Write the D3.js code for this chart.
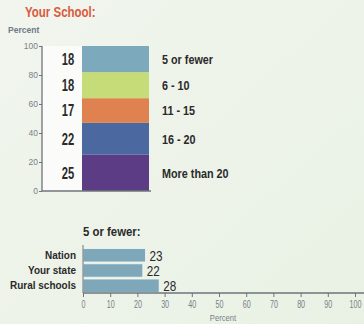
<!DOCTYPE html>
<html>
<head>
<meta charset="utf-8">
<script src="https://cdn.jsdelivr.net/npm/d3@7"></script>
<style>
  html, body { margin: 0; padding: 0; background: #eef3ea; }
  svg { display: block; font-family: "Liberation Sans", Arial, sans-serif; }
</style>
</head>
<body>
<div id="chart"></div>
<script>
// Class-size distribution at your school (stacked, bottom to top)
const sizeCategories = ["More than 20", "16 - 20", "11 - 15", "6 - 10", "5 or fewer"];
const sizePercents   = [25, 22, 17, 18, 18];
const sizeColors     = ["#5b3c85", "#4b69a0", "#e08150", "#c6dc78", "#7ca9bb"];
const percentTicks   = [0, 20, 40, 60, 80, 100];

// Share of classes with 5 or fewer students, by comparison group
const groupNames    = ["Nation", "Your state", "Rural schools"];
const groupPercents = [23, 22, 28];
const groupTicks    = [0, 10, 20, 30, 40, 50, 60, 70, 80, 90, 100];

const W = 364, H = 324;
const ink = "#2a2a2a", grey = "#7a8088", axisGrey = "#6f747a";
const svg = d3.select("#chart").append("svg").attr("width", W).attr("height", H);

// horizontally condensed text placed at (x, y)
const squeeze = (x, y, sx) => `translate(${x},${y}) scale(${sx},1)`;

// soft background wash
const defs = svg.append("defs");
const grad = defs.append("linearGradient").attr("id", "bg").attr("x1", 0).attr("y1", 0).attr("x2", 1).attr("y2", 1);
grad.append("stop").attr("offset", "0%").attr("stop-color", "#f1f5ee");
grad.append("stop").attr("offset", "100%").attr("stop-color", "#e9f1e4");
svg.append("rect").attr("width", W).attr("height", H).attr("fill", "url(#bg)");

// ---------- Top: stacked column ----------
svg.append("text")
  .attr("transform", squeeze(25, 17, 0.82))
  .attr("fill", "#d95a3c").attr("font-size", 14).attr("font-weight", "bold")
  .text("Your School:");

svg.append("text")
  .attr("transform", squeeze(8, 33, 0.95))
  .attr("fill", "#6f7a88").attr("font-size", 9).attr("font-weight", "bold")
  .text("Percent");

const y = d3.scaleLinear().domain([0, 100]).range([191, 46]);
const axisX = 42, barX0 = 82, barX1 = 149;

// white panel between axis and column
svg.append("rect").attr("x", axisX).attr("y", y(100)).attr("width", barX0 - axisX)
  .attr("height", y(0) - y(100)).attr("fill", "#fbfcfa");

const stacked = [];
let acc = 0;
sizePercents.forEach((v, i) => {
  stacked.push({ cat: sizeCategories[i], v, y0: acc, y1: acc + v, color: sizeColors[i] });
  acc += v;
});

svg.append("g").selectAll("rect").data(stacked).join("rect")
  .attr("x", barX0).attr("width", barX1 - barX0)
  .attr("y", d => y(d.y1)).attr("height", d => y(d.y0) - y(d.y1))
  .attr("fill", d => d.color);

// value labels to the left of the column
svg.append("g").selectAll("text").data(stacked).join("text")
  .attr("transform", d => squeeze(68, y((d.y0 + d.y1) / 2), 0.7))
  .attr("dy", "0.36em")
  .attr("text-anchor", "middle").attr("font-size", 16).attr("font-weight", "bold")
  .attr("fill", ink)
  .text(d => d.v);

// category labels to the right
svg.append("g").selectAll("text").data(stacked).join("text")
  .attr("transform", d => squeeze(162, y((d.y0 + d.y1) / 2), 0.8))
  .attr("dy", "0.36em")
  .attr("font-size", 13.5).attr("font-weight", "bold")
  .attr("fill", ink)
  .text(d => d.cat);

// left axis
const yAxis = svg.append("g").attr("transform", `translate(${axisX},0)`)
  .call(d3.axisLeft(y).tickValues(percentTicks).tickSize(3).tickPadding(1));
yAxis.select(".domain").attr("stroke", axisGrey).attr("stroke-width", 1.3)
  .attr("d", `M0,${y(100)}V${y(0)}`);
yAxis.selectAll(".tick line").attr("stroke", axisGrey);
yAxis.selectAll(".tick text").attr("font-family", null).attr("font-size", 8.5).attr("fill", grey);

// baseline under the column
svg.append("line").attr("x1", axisX).attr("x2", barX1 + 2)
  .attr("y1", y(0)).attr("y2", y(0)).attr("stroke", axisGrey).attr("stroke-width", 1.3);

// ---------- Bottom: horizontal bars ----------
svg.append("text")
  .attr("transform", squeeze(83, 236, 0.95))
  .attr("fill", ink).attr("font-size", 12).attr("font-weight", "bold")
  .text("5 or fewer:");

const x = d3.scaleLinear().domain([0, 100]).range([83, 355]);
const yb = d3.scaleBand().domain(groupNames).range([248, 293]).paddingInner(0.12).paddingOuter(0.04);

svg.append("g").selectAll("rect").data(groupNames).join("rect")
  .attr("x", x(0)).attr("y", d => yb(d))
  .attr("width", (d, i) => x(groupPercents[i]) - x(0)).attr("height", yb.bandwidth())
  .attr("fill", "#7ea8b9").attr("stroke", "#f4f8f2").attr("stroke-width", 0.8);

svg.append("g").selectAll("text").data(groupNames).join("text")
  .attr("transform", d => squeeze(76, yb(d) + yb.bandwidth() / 2, 0.95))
  .attr("dy", "0.36em")
  .attr("text-anchor", "end").attr("font-size", 10.5).attr("font-weight", "bold")
  .attr("fill", ink)
  .text(d => d);

svg.append("g").selectAll("text").data(groupNames).join("text")
  .attr("transform", (d, i) => squeeze(x(groupPercents[i]) + 4, yb(d) + yb.bandwidth() / 2, 0.78))
  .attr("dy", "0.38em")
  .attr("font-size", 15).attr("fill", ink)
  .text((d, i) => groupPercents[i]);

// vertical reference line at 0
svg.append("line").attr("x1", x(0)).attr("x2", x(0)).attr("y1", 245).attr("y2", 293)
  .attr("stroke", axisGrey).attr("stroke-width", 1);

const xAxis = svg.append("g").attr("transform", "translate(0,293)")
  .call(d3.axisBottom(x).tickValues(groupTicks).tickSize(4).tickPadding(3));
xAxis.select(".domain").attr("stroke", axisGrey).attr("stroke-width", 1.3)
  .attr("d", `M${x(0)},0H${W}`);
xAxis.selectAll(".tick line").attr("stroke", axisGrey);
xAxis.selectAll(".tick text").attr("font-family", null).attr("font-size", 11).attr("fill", grey)
  .attr("transform", "scale(0.65,1)")
  .attr("x", 0);

svg.append("text")
  .attr("transform", squeeze((x(0) + x(100)) / 2 + 4, 321, 0.85))
  .attr("text-anchor", "middle")
  .attr("fill", grey).attr("font-size", 9)
  .text("Percent");
</script>
</body>
</html>
